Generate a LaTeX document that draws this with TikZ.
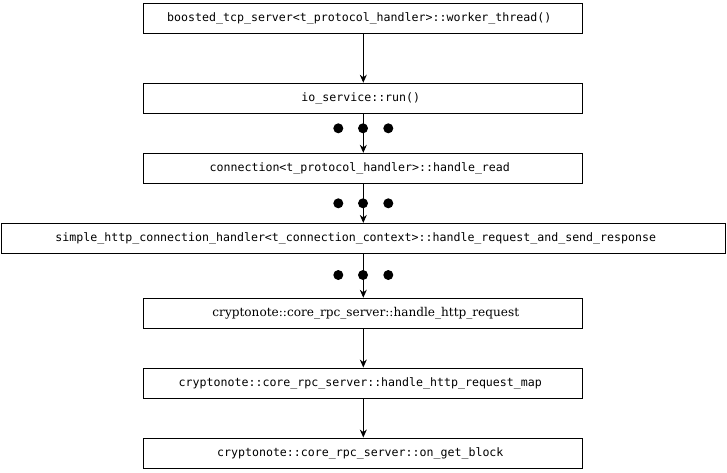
\documentclass[tikz,border=0pt]{standalone}
\usepackage{fontspec}
\setmonofont{DejaVu Sans Mono}
\newfontfamily\callserif{DejaVu Serif}
\usetikzlibrary{arrows.meta}
\tikzset{
  callbox/.style={draw,line width=1pt,minimum width=439pt,minimum height=30pt,
    inner sep=0pt,font=\fontsize{11.6}{14}\ttfamily},
  callarrow/.style={-{Stealth[length=8pt,width=7pt]},line width=0.9pt}
}
\begin{document}
\begin{tikzpicture}[x=1pt,y=-1pt]
  \useasboundingbox (0,0) rectangle (727,472);
  \node[callbox] (wt) at (363.3,18.3) {boosted\_tcp\_server<t\_protocol\_handler>::worker\_thread()\kern8pt};
  \node[callbox] (run) at (363.3,98.2) {io\_service::run()\kern5pt};
  \node[callbox] (rd) at (363.3,168.3) {connection<t\_protocol\_handler>::handle\_read\kern7pt};
  \node[callbox,minimum width=724.5pt] (hr) at (363.3,238.4)
    {simple\_http\_connection\_handler<t\_connection\_context>::handle\_request\_and\_send\_response\kern15pt};
  \node[callbox,font=\fontsize{12.1}{14}\callserif] (hh) at (363.3,313.2) {\hspace{5pt}cryptonote::core\_rpc\_server::handle\_http\_request};
  \node[callbox] (hm) at (363.3,383) {cryptonote::core\_rpc\_server::handle\_http\_request\_map\kern6pt};
  \node[callbox] (gb) at (363.3,453) {cryptonote::core\_rpc\_server::on\_get\_block\kern6pt};
  \draw[callarrow] (wt) -- (run);
  \draw[callarrow] (run) -- (rd);
  \draw[callarrow] (rd) -- (hr);
  \draw[callarrow] (hr) -- (hh);
  \draw[callarrow] (hh) -- (hm);
  \draw[callarrow] (hm) -- (gb);
  % skipped frames
  \foreach \y in {128.3,203.3,275} {
    \foreach \x in {338.3,363,388.3}
      \fill (\x,\y) circle(5pt);
  }
\end{tikzpicture}
\end{document}
